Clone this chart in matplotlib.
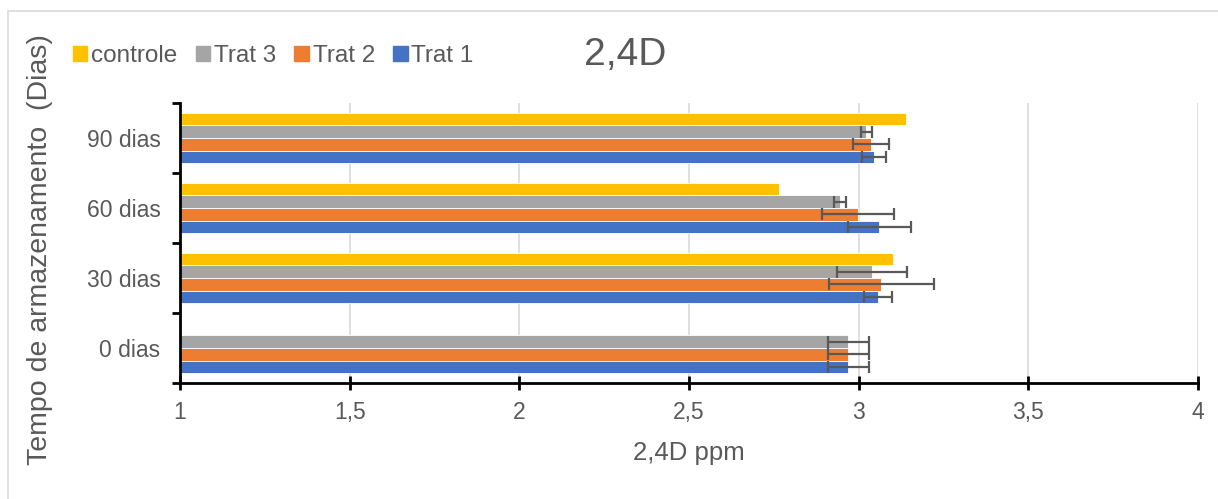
import numpy as np
import matplotlib
matplotlib.use('Agg')
from matplotlib import pyplot as plt
from matplotlib.patches import Rectangle, Patch

plt.rcParams['font.family'] = ['Liberation Sans', 'DejaVu Sans']

categories = ['0 dias', '30 dias', '60 dias', '90 dias']
series = ['Trat 1', 'Trat 2', 'Trat 3', 'controle']
trat1 = [2.969, 3.056, 3.061, 3.046]
trat1_err = [0.06, 0.041, 0.093, 0.036]
trat2 = [2.969, 3.067, 2.999, 3.037]
trat2_err = [0.06, 0.154, 0.106, 0.053]
trat3 = [2.969, 3.040, 2.945, 3.022]
trat3_err = [0.06, 0.103, 0.019, 0.016]
controle = [np.nan, 3.101, 2.766, 3.140]

colors = ['#4472C4', '#ED7D31', '#A5A5A5', '#FFC000']
txt = '#595959'

W, H = 1218, 499
fig = plt.figure(figsize=(W / 100, H / 100), dpi=100)
ax = fig.add_axes([180 / W, (H - 383) / H, 1018 / W, 280 / H])

# light frame of the chart area
fig.patches.append(Rectangle((8 / W, -0.1), 1.2, 1.1 - 11 / H, transform=fig.transFigure,
                             fill=False, edgecolor='#D9D9D9', linewidth=1.2))

h = 0.18
y = np.arange(len(categories))
values = [trat1, trat2, trat3, controle]
errs = [trat1_err, trat2_err, trat3_err, None]
for i, (vals, err, c) in enumerate(zip(values, errs, colors)):
    yy = y + (i - 1.5) * h
    vals = np.array(vals, dtype=float)
    ax.barh(yy, vals - 1, left=1, height=h, color=c, edgecolor='white', linewidth=0.6, zorder=2)
    if err is not None:
        ax.errorbar(vals, yy, xerr=err, fmt='none', ecolor='#595959', elinewidth=1.6,
                    capsize=4.5, capthick=1.6, zorder=3)

ax.set_xlim(1, 4)
ax.set_ylim(-0.5, 3.5)
ax.set_xticks([1, 1.5, 2, 2.5, 3, 3.5, 4])
ax.set_xticklabels(['1', '1,5', '2', '2,5', '3', '3,5', '4'], fontsize=16.5, color=txt)
ax.set_yticks([-0.5, 0.5, 1.5, 2.5, 3.5])
ax.set_yticklabels([])
ax.set_yticks(y, minor=True)
ax.set_yticklabels(categories, minor=True, fontsize=16.5, color=txt)
ax.tick_params(axis='y', which='minor', length=0, pad=14)
ax.tick_params(axis='y', which='major', length=6, width=2, direction='out', color='black')
ax.tick_params(axis='x', length=10, width=2, direction='inout', pad=8, color='black')

ax.grid(axis='x', color='#D9D9D9', linewidth=1.2, zorder=0)
ax.set_axisbelow(True)
for s in ['top', 'right']:
    ax.spines[s].set_visible(False)
for s in ['left', 'bottom']:
    ax.spines[s].set_linewidth(2)
    ax.spines[s].set_color('black')

ax.set_xlabel('2,4D ppm', fontsize=18.5, color=txt, labelpad=12)
fig.text(40 / W, 1 - 250 / H, 'Tempo de armazenamento  (Dias)', rotation=90,
         ha='center', va='center', fontsize=20.5, color=txt)
fig.text(625 / W, 1 - 55 / H, '2,4D', ha='center', va='center', fontsize=28, color=txt)

handles = [Patch(color=colors[3]), Patch(color=colors[2]), Patch(color=colors[1]), Patch(color=colors[0])]
labels = ['controle', 'Trat 3', 'Trat 2', 'Trat 1']
fig.legend(handles, labels, loc='center left', bbox_to_anchor=(51 / W, 1 - 56 / H), ncol=4,
           frameon=False, fontsize=17.5, handlelength=0.6, handleheight=0.6, handletextpad=0.15,
           columnspacing=0.75, labelcolor=txt)

fig.savefig('out.png', dpi=100)
